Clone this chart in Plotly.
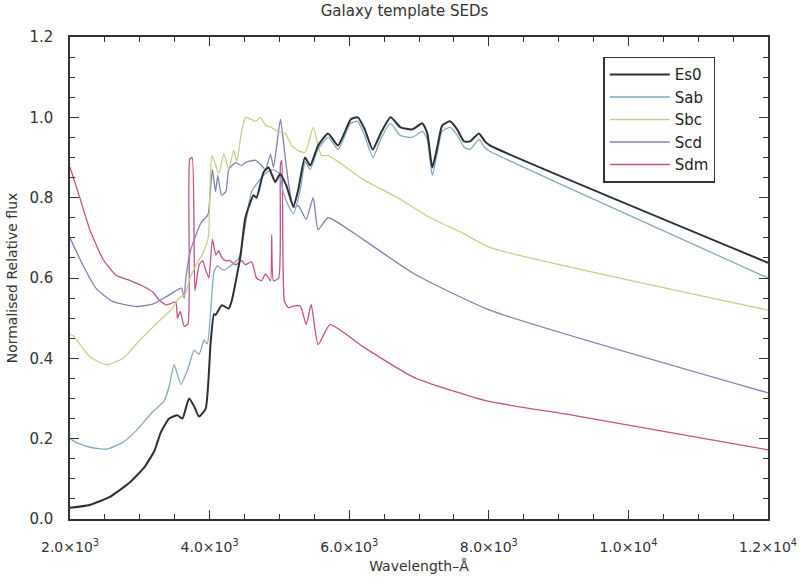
import plotly.graph_objects as go

# ---------------- data ----------------
es0_wl = [2000, 2280, 2570, 2850, 3070, 3210, 3250, 3300, 3420, 3540, 3610, 3706, 3780, 3849, 3944,
          4015, 4062, 4085, 4176, 4275, 4318, 4441, 4512, 4630, 4673, 4773, 4844, 4940, 5010,
          5100, 5200, 5270, 5366, 5441, 5555, 5697, 5839, 6024, 6124, 6223, 6337, 6451, 6593,
          6735, 6906, 7048, 7119, 7190, 7261, 7333, 7446, 7546, 7645, 7731, 7859, 7944, 8015, 12000]
es0_f = [0.028, 0.035, 0.055, 0.09, 0.13, 0.17, 0.19, 0.215, 0.25, 0.258, 0.25, 0.30, 0.28, 0.255, 0.275,
         0.44, 0.51, 0.508, 0.532, 0.524, 0.544, 0.653, 0.75, 0.806, 0.80, 0.863, 0.875, 0.839, 0.859,
         0.83, 0.778, 0.82, 0.90, 0.88, 0.93, 0.96, 0.93, 0.995, 1.0, 0.97, 0.92, 0.96, 1.0,
         0.975, 0.97, 0.985, 0.96, 0.875, 0.925, 0.98, 0.99, 0.97, 0.94, 0.94, 0.96, 0.94, 0.93, 0.638]

sab_wl = [2000, 2095, 2300, 2520, 2750, 2950, 3185, 3350, 3420, 3493, 3588, 3682, 3778, 3849, 3920,
          3967, 4015, 4062, 4110, 4200, 4300, 4420, 4520, 4600, 4700, 4800, 4900, 5000, 5060,
          5130, 5200, 5300, 5370, 5440, 5550, 5700, 5840, 6020, 6120, 6220, 6340, 6450, 6590,
          6730, 6900, 7050, 7120, 7190, 7260, 7330, 7450, 7550, 7650, 7730, 7860, 7940, 8020, 12000]
sab_f = [0.20, 0.19, 0.178, 0.174, 0.19, 0.22, 0.267, 0.294, 0.33, 0.384, 0.335, 0.37, 0.42, 0.41, 0.445,
         0.436, 0.517, 0.614, 0.63, 0.62, 0.63, 0.65, 0.74, 0.815, 0.84, 0.86, 0.87, 0.86, 0.81,
         0.78, 0.76, 0.82, 0.89, 0.87, 0.92, 0.95, 0.92, 0.985, 0.99, 0.955, 0.90, 0.945, 0.985,
         0.955, 0.95, 0.965, 0.945, 0.855, 0.91, 0.965, 0.975, 0.955, 0.925, 0.92, 0.945, 0.925, 0.915, 0.60]

sbc_wl = [2000, 2045, 2285, 2520, 2760, 2995, 3230, 3470, 3560, 3650, 3720, 3800, 3900, 3980, 4010,
          4033, 4133, 4204, 4275, 4346, 4389, 4460, 4517, 4659, 4730, 4801, 4887, 4986, 5086,
          5171, 5271, 5370, 5484, 5600, 5697, 6223, 6693, 7162, 7645, 8015, 12000]
sbc_f = [0.46, 0.456, 0.404, 0.384, 0.40, 0.444, 0.485, 0.525, 0.55, 0.56, 0.60, 0.63, 0.66, 0.70, 0.85,
         0.905, 0.86, 0.91, 0.87, 0.918, 0.89, 0.967, 1.0, 0.99, 1.0, 0.98, 0.975, 0.963, 0.96,
         0.93, 0.917, 0.913, 0.975, 0.905, 0.905, 0.843, 0.80, 0.75, 0.71, 0.676, 0.52]

scd_wl = [2000, 2190, 2380, 2615, 2950, 3185, 3375, 3565, 3600, 3635, 3660, 3730, 3870, 3920, 3944,
          3980, 4040, 4085, 4118, 4170, 4233, 4275, 4375, 4460, 4517, 4659, 4744, 4801, 4872,
          4915, 5015, 5057, 5128, 5200, 5271, 5384, 5484, 5555, 5697, 6223, 6934, 8015, 12000]
scd_f = [0.70, 0.63, 0.573, 0.541, 0.529, 0.535, 0.553, 0.573, 0.575, 0.55, 0.60, 0.67, 0.735, 0.747, 0.75,
         0.76, 0.87, 0.815, 0.855, 0.806, 0.815, 0.87, 0.887, 0.88, 0.888, 0.893, 0.88, 0.87, 0.908,
         0.875, 0.995, 0.94, 0.84, 0.776, 0.78, 0.746, 0.80, 0.72, 0.75, 0.693, 0.61, 0.52, 0.314]

sdm_wl = [2000, 2140, 2285, 2475, 2665, 2855, 3040, 3185, 3280, 3375, 3515, 3540, 3580, 3635, 3690,
          3715, 3750, 3790, 3850, 3900, 3944, 3990, 4040, 4090, 4130, 4176, 4233, 4290, 4370,
          4460, 4510, 4602, 4673, 4744, 4801, 4872, 4890, 4915, 4990, 5015, 5035, 5071, 5128,
          5200, 5299, 5384, 5455, 5555, 5725, 6223, 6934, 7970, 9252, 12000]
sdm_f = [0.876, 0.80, 0.72, 0.646, 0.606, 0.594, 0.58, 0.565, 0.545, 0.533, 0.54, 0.50, 0.517, 0.48, 0.485,
         0.896, 0.90, 0.568, 0.633, 0.643, 0.62, 0.60, 0.696, 0.658, 0.668, 0.65, 0.643, 0.643, 0.633,
         0.643, 0.633, 0.64, 0.60, 0.593, 0.61, 0.593, 0.708, 0.593, 0.60, 0.883, 0.893, 0.543, 0.526,
         0.53, 0.53, 0.484, 0.534, 0.434, 0.484, 0.426, 0.352, 0.294, 0.257, 0.172]

series_names = ["Es0", "Sab", "Sbc", "Scd", "Sdm"]
series_colors = ["#2b3036", "#86a9bd", "#c6cf8a", "#7d84ae", "#c2508e"]
series_widths = [2.0, 1.3, 1.3, 1.3, 1.3]

x_tick_vals = [2000, 4000, 6000, 8000, 10000, 12000]
x_tick_text = ["2.0×10<sup>3</sup>", "4.0×10<sup>3</sup>", "6.0×10<sup>3</sup>",
               "8.0×10<sup>3</sup>", "1.0×10<sup>4</sup>", "1.2×10<sup>4</sup>"]
y_tick_vals = [0.0, 0.2, 0.4, 0.6, 0.8, 1.0, 1.2]
y_tick_text = ["0.0", "0.2", "0.4", "0.6", "0.8", "1.0", "1.2"]

# ---------------- figure ----------------
all_x = [es0_wl, sab_wl, sbc_wl, scd_wl, sdm_wl]
all_y = [es0_f, sab_f, sbc_f, scd_f, sdm_f]

fig = go.Figure()
order = [4, 3, 2, 1, 0]  # Es0 drawn last (on top)
for i in order:
    fig.add_trace(go.Scatter(
        x=all_x[i], y=all_y[i], mode="lines", name=series_names[i],
        line=dict(color=series_colors[i], width=series_widths[i], shape="spline", smoothing=0.5),
        legendrank=i + 1,
    ))

font_family = "DejaVu Sans"
axis_col = "#333333"

fig.update_layout(
    width=809, height=584,
    margin=dict(l=70, r=36, t=37, b=63),
    paper_bgcolor="white", plot_bgcolor="white",
    font=dict(family=font_family, size=14, color="#333333"),
    title=dict(text="Galaxy template SEDs", x=0.5, xanchor="center", y=0.99, yanchor="top",
               font=dict(size=15, color="#333333")),
    showlegend=True,
    legend=dict(x=0.764, y=0.959, xanchor="left", yanchor="top",
                bordercolor=axis_col, borderwidth=1.5, bgcolor="white",
                font=dict(size=15, color="#222222"), tracegroupgap=0,
                itemwidth=60),
)

fig.update_xaxes(
    range=[2000, 12000], showgrid=False, zeroline=False,
    showline=True, linecolor=axis_col, linewidth=1.5, mirror="allticks",
    ticks="inside", ticklen=9, tickcolor=axis_col, tickwidth=1,
    tickvals=x_tick_vals, ticktext=x_tick_text, tickfont=dict(size=14),
    ticklabelstandoff=14,
    minor=dict(dtick=500, ticks="inside", ticklen=5, tickcolor=axis_col, showgrid=False),
    title=dict(text="Wavelength–Å", font=dict(size=14), standoff=8),
)
fig.update_yaxes(
    range=[0, 1.2], showgrid=False, zeroline=False,
    showline=True, linecolor=axis_col, linewidth=1.5, mirror="allticks",
    ticks="inside", ticklen=9, tickcolor=axis_col, tickwidth=1,
    tickvals=y_tick_vals, ticktext=y_tick_text, tickfont=dict(size=15),
    ticklabelstandoff=12,
    minor=dict(dtick=0.05, ticks="inside", ticklen=5, tickcolor=axis_col, showgrid=False),
    title=dict(text="Normalised Relative flux", font=dict(size=14), standoff=8),
)

fig.write_html("out.html")
